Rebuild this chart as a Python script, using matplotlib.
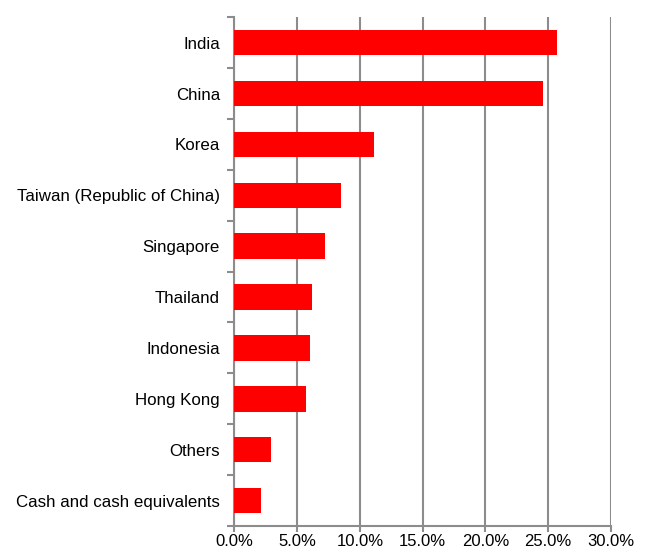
import numpy as np
import matplotlib.pyplot as plt
from matplotlib.ticker import FuncFormatter

plt.rcParams['font.family'] = ['Liberation Sans', 'DejaVu Sans']

# 数据（从上到下）
countries = ["India", "China", "Korea", "Taiwan (Republic of China)", "Singapore",
             "Thailand", "Indonesia", "Hong Kong", "Others", "Cash and cash equivalents"]
weights = [25.7, 24.6, 11.1, 8.5, 7.2, 6.2, 6.0, 5.7, 2.9, 2.1]

gray = "#8c8c8c"

fig = plt.figure(figsize=(6.49, 5.55), dpi=100)
ax = fig.add_axes([0.3613, 0.0523, 0.5797, 0.9167])

y = np.arange(len(countries))
ax.barh(y, weights, height=0.5, color="#ff0000", zorder=3)

ax.set_xlim(0, 30)
ax.set_ylim(len(countries) - 0.5, -0.5)
ax.set_xticks(np.arange(0, 31, 5))
ax.xaxis.set_major_formatter(FuncFormatter(lambda v, p: "%.1f%%" % v))
ax.grid(axis='x', color=gray, linewidth=1.5, zorder=0)

# y轴：标签在类别中心，刻度在类别之间
ax.set_yticks(y)
ax.set_yticklabels(countries)
ax.set_yticks(np.arange(-0.5, len(countries), 1), minor=True)
ax.tick_params(axis='y', which='major', length=0, pad=10.4, labelsize=12.2)
ax.tick_params(axis='y', which='minor', length=5, width=1.5, color=gray)
ax.tick_params(axis='x', length=4, width=1.5, color=gray, labelsize=12, pad=1.5)

for s in ['top', 'right']:
    ax.spines[s].set_visible(False)
for s in ['left', 'bottom']:
    ax.spines[s].set_color(gray)
    ax.spines[s].set_linewidth(1.5)

plt.savefig("out.png", dpi=100)
